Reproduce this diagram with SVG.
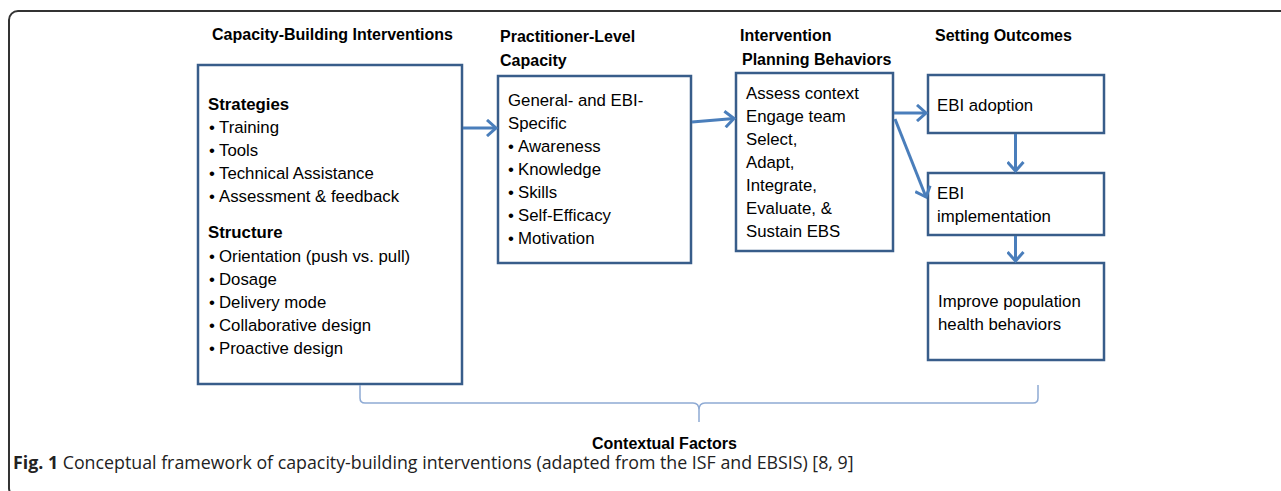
<svg xmlns="http://www.w3.org/2000/svg" width="1281" height="491" viewBox="0 0 1281 491">
<style>
.frame{fill:none;stroke:#333;stroke-width:2}
.box{fill:#fff;stroke:#385d8a;stroke-width:2.5}
.t{font-family:"Liberation Sans",Arial,sans-serif;font-size:16.8px;fill:#000}
.h{font-family:"Liberation Sans",Arial,sans-serif;font-size:16px;font-weight:bold;fill:#000}
.cap{font-family:"Open Sans","Liberation Sans",sans-serif;font-size:17.8px;fill:#222}
.arr{fill:none;stroke:#4a7ebb;stroke-width:3;marker-end:url(#ah)}
.brace{fill:none;stroke:#8eaad4;stroke-width:1.5}
</style>
<defs>
<marker id="ah" markerUnits="userSpaceOnUse" markerWidth="14" markerHeight="18" refX="11" refY="9" orient="auto" viewBox="0 0 14 18">
<path d="M2,1 L11,9 L2,17" fill="none" stroke="#4a7ebb" stroke-width="3"/>
</marker>
</defs>
<rect width="1281" height="491" fill="#fff"/>
<rect class="frame" x="9" y="11" width="1290" height="486" rx="9"/>
<g id="headers">
<text class="h" x="212" y="40">Capacity-Building Interventions</text>
<text class="h" x="500" y="42">Practitioner-Level</text>
<text class="h" x="500" y="66">Capacity</text>
<text class="h" x="740" y="41">Intervention</text>
<text class="h" x="742" y="65">Planning Behaviors</text>
<text class="h" x="935" y="41">Setting Outcomes</text>
</g>
<g id="node-interventions">
<rect class="box" x="198" y="65" width="264" height="319"/>
<text class="t" x="208" y="110" font-weight="bold">Strategies</text>
<text class="t" y="133"><tspan x="209">•</tspan><tspan x="219">Training</tspan></text>
<text class="t" y="156"><tspan x="209">•</tspan><tspan x="219">Tools</tspan></text>
<text class="t" y="179"><tspan x="209">•</tspan><tspan x="219">Technical Assistance</tspan></text>
<text class="t" y="202"><tspan x="209">•</tspan><tspan x="219">Assessment &amp; feedback</tspan></text>
<text class="t" x="208" y="238" font-weight="bold">Structure</text>
<text class="t" y="262"><tspan x="209">•</tspan><tspan x="219">Orientation (push vs. pull)</tspan></text>
<text class="t" y="285"><tspan x="209">•</tspan><tspan x="219">Dosage</tspan></text>
<text class="t" y="308"><tspan x="209">•</tspan><tspan x="219">Delivery mode</tspan></text>
<text class="t" y="331"><tspan x="209">•</tspan><tspan x="219">Collaborative design</tspan></text>
<text class="t" y="354"><tspan x="209">•</tspan><tspan x="219">Proactive design</tspan></text>
</g>
<g id="node-capacity">
<rect class="box" x="498" y="76" width="193" height="187"/>
<text class="t" x="508" y="106">General- and EBI-</text>
<text class="t" x="508" y="129">Specific</text>
<text class="t" y="152"><tspan x="508">•</tspan><tspan x="518">Awareness</tspan></text>
<text class="t" y="175"><tspan x="508">•</tspan><tspan x="518">Knowledge</tspan></text>
<text class="t" y="198"><tspan x="508">•</tspan><tspan x="518">Skills</tspan></text>
<text class="t" y="221"><tspan x="508">•</tspan><tspan x="518">Self-Efficacy</tspan></text>
<text class="t" y="244"><tspan x="508">•</tspan><tspan x="518">Motivation</tspan></text>
</g>
<g id="node-planning">
<rect class="box" x="736" y="73" width="157" height="178"/>
<text class="t" x="746" y="99">Assess context</text>
<text class="t" x="746" y="122">Engage team</text>
<text class="t" x="746" y="145">Select,</text>
<text class="t" x="746" y="168">Adapt,</text>
<text class="t" x="746" y="191">Integrate,</text>
<text class="t" x="746" y="214">Evaluate, &amp;</text>
<text class="t" x="746" y="237">Sustain EBS</text>
</g>
<g id="node-adoption">
<rect class="box" x="928" y="75" width="176" height="58"/>
<text class="t" x="937" y="111">EBI adoption</text>
</g>
<g id="node-implementation">
<rect class="box" x="928" y="173" width="176" height="62"/>
<text class="t" x="937" y="199">EBI</text>
<text class="t" x="937" y="222">implementation</text>
</g>
<g id="node-health">
<rect class="box" x="928" y="263" width="176" height="97"/>
<text class="t" x="938" y="307">Improve population</text>
<text class="t" x="938" y="330">health behaviors</text>
</g>
<g id="connectors">
<line class="arr" x1="463" y1="128" x2="496" y2="128"/>
<line class="arr" x1="692" y1="122" x2="734" y2="118.5"/>
<line class="arr" x1="894" y1="113" x2="926" y2="113"/>
<line class="arr" x1="895" y1="119" x2="926" y2="197"/>
<line class="arr" x1="1015.5" y1="134" x2="1015.5" y2="171"/>
<line class="arr" x1="1015.5" y1="236" x2="1015.5" y2="261"/>
</g>
<g id="context">
<path class="brace" d="M360,385 L360,398 Q360,403 365,403 L693,403 Q699,403 699,410 L699,422 M699,422 L699,410 Q699,403 705,403 L1033,403 Q1038,403 1038,398 L1038,385"/>
<text class="h" x="592" y="449">Contextual Factors</text>
</g>
<text class="cap" x="13" y="469"><tspan font-weight="bold">Fig. 1</tspan> Conceptual framework of capacity-building interventions (adapted from the ISF and EBSIS) [8, 9]</text>
</svg>
